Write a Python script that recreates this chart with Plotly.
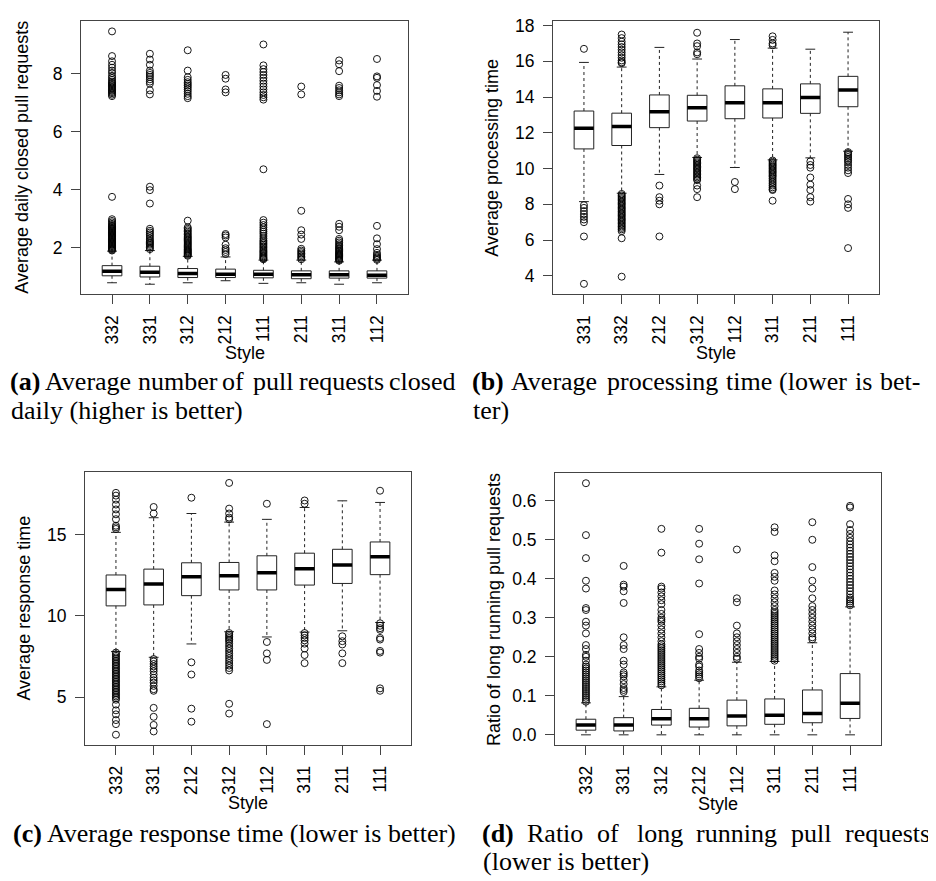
import plotly.graph_objects as go

# The page body has an 8px default margin, so the figure is offset by it
OFF = 8
FW, FH = 928, 873

# ---------------- data: panel (a) ----------------
a_styles = ["332", "331", "312", "212", "111", "211", "311", "112"]
a_lower = [0.79, 0.74, 0.79, 0.86, 0.77, 0.79, 0.74, 0.79]
a_q1 = [1.03, 0.99, 0.97, 0.97, 0.96, 0.93, 0.95, 0.95]
a_median = [1.19, 1.15, 1.11, 1.08, 1.08, 1.07, 1.07, 1.05]
a_q3 = [1.38, 1.36, 1.28, 1.26, 1.22, 1.20, 1.20, 1.20]
a_upper = [1.88, 1.90, 1.70, 1.68, 1.57, 1.57, 1.51, 1.57]
a_outliers = [
    [1.90, 1.93, 1.96, 1.99, 2.02, 2.05, 2.08, 2.11, 2.14, 2.17, 2.2, 2.23, 2.26, 2.29, 2.32, 2.35,
     2.38, 2.41, 2.44, 2.47, 2.5, 2.53, 2.56, 2.59, 2.62, 2.65, 2.68, 2.71, 2.74, 2.78, 2.82, 2.87,
     2.92, 2.98, 3.75, 7.22, 7.27, 7.32, 7.36, 7.40, 7.44, 7.48, 7.52, 7.56, 7.60, 7.64, 7.68, 7.72,
     7.78, 7.85, 7.92, 8.02, 8.1, 8.2, 8.3, 8.42, 8.6, 9.45],
    [1.95, 2.0, 2.05, 2.1, 2.14, 2.18, 2.22, 2.27, 2.33, 2.4, 2.46, 2.52, 2.58, 2.65, 3.52, 3.98, 4.1,
     7.28, 7.42, 7.65, 7.72, 7.8, 7.88, 7.95, 8.02, 8.1, 8.3, 8.48, 8.68],
    [1.72, 1.75, 1.78, 1.81, 1.84, 1.87, 1.9, 1.93, 1.96, 2.0, 2.04, 2.08, 2.12, 2.16, 2.2, 2.24, 2.28,
     2.32, 2.36, 2.4, 2.45, 2.5, 2.55, 2.6, 2.65, 2.7, 2.93, 7.15, 7.22, 7.3, 7.38, 7.45, 7.52, 7.58,
     7.64, 7.7, 7.78, 7.87, 8.1, 8.8],
    [1.78, 1.85, 1.92, 1.98, 2.1, 2.35, 2.42, 2.47, 7.35, 7.45, 7.82, 7.95],
    [1.6, 1.63, 1.66, 1.7, 1.74, 1.78, 1.82, 1.86, 1.9, 1.95, 2.0, 2.05, 2.1, 2.15, 2.2, 2.25, 2.32,
     2.4, 2.48, 2.55, 2.62, 2.7, 2.78, 2.86, 2.95, 4.7, 7.1, 7.18, 7.26, 7.35, 7.45, 7.55, 7.65, 7.75,
     7.85, 7.95, 8.05, 8.15, 8.28, 9.0],
    [1.6, 1.65, 1.7, 1.75, 1.8, 1.85, 1.9, 1.96, 2.3, 2.45, 2.6, 3.27, 7.28, 7.55],
    [1.55, 1.58, 1.61, 1.64, 1.67, 1.7, 1.73, 1.76, 1.79, 1.82, 1.86, 1.9, 1.94, 1.98, 2.02, 2.07,
     2.12, 2.18, 2.24, 2.3, 2.6, 2.72, 2.82, 7.22, 7.28, 7.35, 7.42, 7.5, 7.58, 8.08, 8.32, 8.45],
    [1.58, 1.62, 1.66, 1.7, 1.75, 1.82, 1.95, 2.12, 2.32, 2.75, 7.2, 7.4, 7.6, 7.85, 7.9, 8.5],
]
a_yticks = [2, 4, 6, 8]

# ---------------- data: panel (b) ----------------
b_styles = ["331", "332", "212", "312", "112", "311", "211", "111"]
b_lower = [8.15, 8.62, 9.67, 10.62, 10.06, 10.49, 10.6, 10.97]
b_q1 = [11.1, 11.29, 12.29, 12.66, 12.79, 12.83, 13.09, 13.46]
b_median = [12.25, 12.36, 13.18, 13.4, 13.68, 13.68, 13.98, 14.4]
b_q3 = [13.22, 13.1, 14.12, 14.1, 14.63, 14.46, 14.74, 15.16]
b_upper = [15.94, 15.68, 16.78, 16.13, 17.22, 16.74, 16.68, 17.63]
b_outliers = [
    [16.7, 7.95, 7.8, 7.62, 7.45, 7.3, 7.15, 7.0, 6.2, 3.55],
    [15.9, 15.95, 16.05, 16.2, 16.35, 16.5, 16.65, 16.8, 16.95, 17.1, 17.3, 17.5,
     8.58, 8.5, 8.42, 8.35, 8.28, 8.2, 8.12, 8.05, 7.98, 7.9, 7.82, 7.75, 7.68, 7.6, 7.52, 7.45,
     7.38, 7.3, 7.22, 7.15, 7.08, 7.0, 6.92, 6.84, 6.76, 6.68, 6.6, 6.5, 6.1, 3.95],
    [9.05, 8.4, 8.2, 8.0, 6.2],
    [16.4, 16.5, 16.85, 17.0, 17.6, 10.58, 10.5, 10.42, 10.35, 10.28, 10.2, 10.12, 10.05, 9.98,
     9.9, 9.82, 9.74, 9.66, 9.58, 9.5, 9.42, 9.35, 9.05, 8.85, 8.4],
    [9.25, 8.85],
    [16.9, 17.0, 17.2, 17.4, 10.45, 10.38, 10.3, 10.22, 10.15, 10.08, 10.0, 9.92, 9.85, 9.78, 9.7,
     9.62, 9.55, 9.45, 9.35, 9.25, 9.15, 9.05, 8.95, 8.85, 8.8, 8.2],
    [10.4, 10.2, 10.05, 9.5, 9.1, 8.8, 8.4, 8.15],
    [10.92, 10.85, 10.75, 10.65, 10.55, 10.45, 10.35, 10.2, 10.05, 9.9, 9.75, 8.3, 8.0, 7.8, 5.55],
]
b_yticks = [4, 6, 8, 10, 12, 14, 16, 18]

# ---------------- data: panel (c) ----------------
c_styles = ["332", "331", "212", "312", "112", "311", "211", "111"]
c_lower = [7.81, 7.46, 8.28, 9.03, 8.71, 9.01, 9.09, 9.6]
c_q1 = [10.62, 10.68, 11.25, 11.6, 11.6, 11.9, 12.0, 12.54]
c_median = [11.62, 11.97, 12.41, 12.47, 12.66, 12.9, 13.14, 13.64]
c_q3 = [12.52, 12.88, 13.27, 13.29, 13.7, 13.86, 14.1, 14.55]
c_upper = [15.14, 16.04, 16.3, 15.77, 15.94, 16.67, 17.08, 16.98]
c_outliers = [
    [15.35, 15.45, 15.55, 15.95, 16.25, 16.55, 16.85, 17.15, 17.4, 17.57,
     7.75, 7.65, 7.55, 7.45, 7.35, 7.25, 7.15, 7.05, 6.95, 6.85, 6.75, 6.65, 6.55, 6.45, 6.35, 6.25,
     6.15, 6.05, 5.95, 5.85, 5.75, 5.65, 5.55, 5.45, 5.35, 5.25, 5.15, 5.05, 4.95, 4.85, 4.55, 4.2,
     3.95, 3.6, 3.35, 2.7],
    [16.3, 16.7, 7.35, 7.2, 7.05, 6.9, 6.75, 6.6, 6.4, 6.2, 6.05, 5.9, 5.7, 5.5, 5.4, 4.35, 3.8,
     3.3, 2.9],
    [17.27, 7.15, 6.4, 4.3, 3.5],
    [15.95, 16.05, 16.3, 16.6, 18.18, 8.95, 8.85, 8.75, 8.65, 8.55, 8.45, 8.3, 8.15, 8.0, 7.85,
     7.7, 7.55, 7.4, 7.25, 7.1, 6.95, 6.8, 6.65, 4.6, 4.0],
    [16.9, 8.4, 7.7, 7.3, 3.35],
    [16.9, 17.1, 8.95, 8.8, 8.65, 8.5, 8.3, 8.0, 7.6, 7.1],
    [8.75, 8.45, 8.25, 7.7, 7.1],
    [17.7, 9.55, 9.4, 9.25, 9.15, 8.65, 8.55, 7.85, 7.75, 5.55, 5.4],
]
c_yticks = [5, 10, 15]

# ---------------- data: panel (d) ----------------
d_styles = ["332", "331", "312", "212", "112", "311", "211", "111"]
d_lower = [0.0, 0.0, 0.0, 0.0, 0.0, 0.0, 0.0, 0.0]
d_q1 = [0.012, 0.010, 0.025, 0.020, 0.023, 0.027, 0.031, 0.042]
d_median = [0.025, 0.025, 0.041, 0.041, 0.048, 0.050, 0.055, 0.081]
d_q3 = [0.040, 0.044, 0.065, 0.068, 0.089, 0.092, 0.115, 0.157]
d_upper = [0.082, 0.098, 0.123, 0.140, 0.186, 0.188, 0.236, 0.328]
d_outliers = [
    [0.085, 0.09, 0.095, 0.1, 0.105, 0.11, 0.115, 0.12, 0.125, 0.13, 0.135, 0.14, 0.145, 0.15,
     0.155, 0.16, 0.165, 0.17, 0.175, 0.18, 0.19, 0.2, 0.205, 0.22, 0.23, 0.26, 0.28, 0.29, 0.32,
     0.325, 0.375, 0.395, 0.453, 0.512, 0.645],
    [0.11, 0.115, 0.12, 0.13, 0.14, 0.15, 0.155, 0.16, 0.18, 0.19, 0.22, 0.23, 0.25, 0.338, 0.368,
     0.38, 0.385, 0.433],
    [0.127, 0.132, 0.137, 0.142, 0.147, 0.152, 0.157, 0.162, 0.167, 0.172, 0.177, 0.182, 0.187,
     0.192, 0.197, 0.202, 0.207, 0.212, 0.217, 0.222, 0.227, 0.232, 0.24, 0.25, 0.26, 0.27, 0.28,
     0.29, 0.295, 0.3, 0.31, 0.32, 0.335, 0.345, 0.355, 0.365, 0.375, 0.38, 0.467, 0.528],
    [0.145, 0.15, 0.155, 0.16, 0.165, 0.175, 0.18, 0.195, 0.2, 0.21, 0.22, 0.258, 0.388, 0.45,
     0.49, 0.528],
    [0.195, 0.2, 0.21, 0.22, 0.23, 0.24, 0.25, 0.26, 0.28, 0.34, 0.35, 0.475],
    [0.19, 0.195, 0.2, 0.205, 0.21, 0.215, 0.22, 0.225, 0.23, 0.235, 0.24, 0.245, 0.25, 0.255,
     0.26, 0.265, 0.27, 0.275, 0.28, 0.285, 0.29, 0.295, 0.3, 0.305, 0.31, 0.315, 0.32, 0.33, 0.34,
     0.35, 0.36, 0.37, 0.395, 0.405, 0.415, 0.445, 0.46, 0.52, 0.532],
    [0.245, 0.25, 0.26, 0.27, 0.28, 0.29, 0.3, 0.31, 0.32, 0.33, 0.35, 0.375, 0.395, 0.43, 0.5,
     0.545],
    [0.332, 0.337, 0.342, 0.347, 0.352, 0.36, 0.368, 0.376, 0.384, 0.392, 0.4, 0.408, 0.416, 0.424,
     0.432, 0.44, 0.448, 0.456, 0.464, 0.472, 0.48, 0.488, 0.496, 0.505, 0.515, 0.525, 0.54, 0.583,
     0.587],
]
d_yticks = [0.0, 0.1, 0.2, 0.3, 0.4, 0.5, 0.6]

y_titles = ["Average daily closed pull requests", "Average processing time",
            "Average response time", "Ratio of long running pull requests"]


# ---------------- layout helpers (screen pixels -> paper) ----------------
def px(x):
    return (x - OFF) / FW


def py(y):
    return 1 - (y - OFF) / FH


SANS = "Liberation Sans, Arial, Helvetica, sans-serif"
SERIF = "Liberation Serif, Times New Roman, serif"
LINE = "#222"
FRAME = "#444"

panels = [
    dict(st=a_styles, lo=a_lower, q1=a_q1, md=a_median, q3=a_q3, hi=a_upper, out=a_outliers,
         yt=a_yticks, fmt="d", frame=(81, 408, 16, 291), yr=[0.39, 9.81], ytx=22, xty=350),
    dict(st=b_styles, lo=b_lower, q1=b_q1, md=b_median, q3=b_q3, hi=b_upper, out=b_outliers,
         yt=b_yticks, fmt="d", frame=(553, 879, 16, 291), yr=[2.96, 18.26], ytx=492, xty=350),
    dict(st=c_styles, lo=c_lower, q1=c_q1, md=c_median, q3=c_q3, hi=c_upper, out=c_outliers,
         yt=c_yticks, fmt="d", frame=(85, 411, 470, 744), yr=[2.08, 18.83], ytx=24, xty=803),
    dict(st=d_styles, lo=d_lower, q1=d_q1, md=d_median, q3=d_q3, hi=d_upper, out=d_outliers,
         yt=d_yticks, fmt=".1f", frame=(555, 881, 471, 744), yr=[-0.0255, 0.6703], ytx=494, xty=804),
]

BW = 0.26   # half box width (category units)
SW = 0.13   # half staple width

fig = go.Figure()
layout = dict(width=FW, height=FH, margin=dict(l=0, r=0, t=0, b=0),
              paper_bgcolor="white", plot_bgcolor="white", showlegend=False)
annotations = []

for k, p in enumerate(panels, start=1):
    xa = "x" if k == 1 else f"x{k}"
    ya = "y" if k == 1 else f"y{k}"
    pos = list(range(1, len(p["st"]) + 1))

    bx, by, mx, my, wx, wy, sx, sy, ox, oy = [], [], [], [], [], [], [], [], [], []
    for i, xc in enumerate(pos):
        bx += [xc - BW, xc + BW, xc + BW, xc - BW, xc - BW, None]
        by += [p["q1"][i], p["q1"][i], p["q3"][i], p["q3"][i], p["q1"][i], None]
        mx += [xc - BW, xc + BW, None]
        my += [p["md"][i], p["md"][i], None]
        wx += [xc, xc, None, xc, xc, None]
        wy += [p["q3"][i], p["hi"][i], None, p["q1"][i], p["lo"][i], None]
        sx += [xc - SW, xc + SW, None, xc - SW, xc + SW, None]
        sy += [p["hi"][i], p["hi"][i], None, p["lo"][i], p["lo"][i], None]
        for v in p["out"][i]:
            ox.append(xc)
            oy.append(v)

    fig.add_trace(go.Scatter(x=wx, y=wy, mode="lines", xaxis=xa, yaxis=ya,
                             line=dict(color=LINE, width=1, dash="3px,3px"), hoverinfo="skip"))
    fig.add_trace(go.Scatter(x=sx, y=sy, mode="lines", xaxis=xa, yaxis=ya,
                             line=dict(color=LINE, width=1), hoverinfo="skip"))
    fig.add_trace(go.Scatter(x=bx, y=by, mode="lines", xaxis=xa, yaxis=ya,
                             line=dict(color=LINE, width=1), hoverinfo="skip"))
    fig.add_trace(go.Scatter(x=mx, y=my, mode="lines", xaxis=xa, yaxis=ya,
                             line=dict(color="black", width=3.5), hoverinfo="skip"))
    fig.add_trace(go.Scatter(x=ox, y=oy, mode="markers", xaxis=xa, yaxis=ya,
                             marker=dict(symbol="circle-open", size=7, color="black",
                                         line=dict(width=0.9, color="black")),
                             hoverinfo="skip"))

    x0, x1, y0, y1 = p["frame"]
    common = dict(showline=True, mirror=True, linecolor=FRAME, linewidth=1,
                  ticks="outside", ticklen=9, tickcolor=FRAME, tickwidth=1,
                  showgrid=False, zeroline=False,
                  tickfont=dict(family=SANS, size=17.5, color="black"))
    layout["xaxis" if k == 1 else f"xaxis{k}"] = dict(
        common, domain=[px(x0), px(x1)], anchor=ya, range=[0.18, 8.82],
        tickmode="array", tickvals=pos, ticktext=p["st"], tickangle=-90, ticklabelstandoff=4)
    layout["yaxis" if k == 1 else f"yaxis{k}"] = dict(
        common, domain=[py(y1), py(y0)], anchor=xa, range=p["yr"],
        tickmode="array", tickvals=p["yt"], tickformat=p["fmt"], ticklabelstandoff=5)

    annotations.append(dict(text=y_titles[k - 1], x=px(p["ytx"]), y=py((y0 + y1) / 2),
                            xref="paper", yref="paper", showarrow=False, textangle=-90,
                            xanchor="center", yanchor="middle",
                            font=dict(family=SANS, size=18, color="black")))
    annotations.append(dict(text="Style", x=px((x0 + x1) / 2), y=py(p["xty"]),
                            xref="paper", yref="paper", showarrow=False,
                            xanchor="center", yanchor="middle",
                            font=dict(family=SANS, size=18, color="black")))

# ---------------- captions ----------------
CAP_SIZE = 26
CAP = dict(family=SERIF, size=CAP_SIZE, color="black")

# Times / Liberation Serif advance widths (per 1000 em) for justifying lines
TIMES = {"(": 333, ")": 333, "-": 333, "A": 722, "R": 667, "a": 444, "b": 500, "c": 444,
         "d": 500, "e": 444, "g": 500, "h": 500, "i": 278, "l": 278, "m": 778, "n": 500,
         "o": 500, "p": 500, "q": 500, "r": 333, "s": 389, "t": 278, "u": 500, "v": 500,
         "w": 722, "y": 500}
TIMES_BOLD = {"(": 333, ")": 333, "a": 500, "b": 556, "c": 444, "d": 556}


def text_width(word, bold=False):
    table = TIMES_BOLD if bold else TIMES
    return sum(table.get(ch, 500) for ch in word) * CAP_SIZE / 1000.0


# single (ragged) lines: text, left-x or centre-x, centre-y, anchor
captions = [
    ("daily (higher is better)", 9, 408, "left"),
    ("ter)", 471, 408, "left"),
    ("<b>(c)</b> Average response time (lower is better)", 234, 833, "center"),
    ("(lower is better)", 481, 861, "left"),
]
for t, x, y, anc in captions:
    annotations.append(dict(text=t, x=px(x), y=py(y), xref="paper", yref="paper",
                            showarrow=False, xanchor=anc, yanchor="middle", font=CAP))

# justified lines: (label, words, left edge, right edge, centre-y)
justified = [
    ("(a)", ["Average", "number", "of", "pull", "requests", "closed"], 9, 454, 379),
    ("(b)", ["Average", "processing", "time", "(lower", "is", "bet-"], 471, 919, 379),
    ("(d)", ["Ratio", "of", "long", "running", "pull", "requests"], 481, 929, 833),
]
for label, words, left, right, y in justified:
    items = [(label, True)] + [(w, False) for w in words]
    widths = [text_width(w, b) for w, b in items]
    gap = (right - left - sum(widths)) / (len(items) - 1)
    x = left
    for (w, b), wd in zip(items, widths):
        t = f"<b>{w}</b>" if b else w
        annotations.append(dict(text=t, x=px(x - 1), y=py(y), xref="paper", yref="paper",
                                showarrow=False, xanchor="left", yanchor="middle", font=CAP))
        x += wd + gap

layout["annotations"] = annotations
fig.update_layout(**layout)
fig.write_html("out.html")
